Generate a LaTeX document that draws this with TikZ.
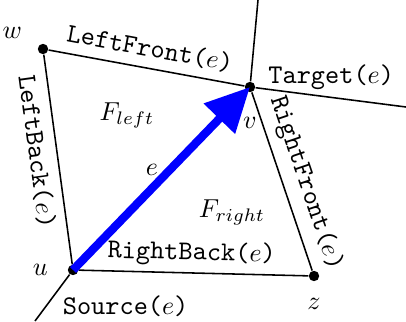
\documentclass[tikz,border=0pt]{standalone}
\usepackage{amsmath,amssymb}
\usepackage{tikz}
\usetikzlibrary{arrows.meta,positioning}
\newcommand{\fname}[1]{\texttt{#1(}$e$\texttt{)}}

\begin{document}
\begin{tikzpicture}[x=0.385pt,y=-0.385pt,
    font=\fontsize{10.4pt}{12pt}\selectfont,
    vertex/.style={circle,fill=black,inner sep=0pt,minimum size=4pt},
    edge/.style={draw=black,line width=0.6pt},
    dart/.style={draw=blue,line width=3.2pt,
                 -{Triangle[length=17pt,width=16pt]}}]
  \useasboundingbox (0,0) rectangle (406,321);
  % vertices of the two faces
  \node[vertex] (w) at (43,49) {};
  \node[vertex] (v) at (250,87) {};
  \node[vertex] (u) at (73,270) {};
  \node[vertex] (z) at (314,276) {};
  \coordinate (vtop)   at (258,0);
  \coordinate (vright) at (406,107);
  \coordinate (udown)  at (35,321);
  % edges
  \draw[edge] (w) -- node[pos=0.5,above,sloped] {\fname{LeftFront}} (v);
  \draw[edge] (w) -- node[pos=0.45,below,sloped] {\fname{LeftBack}} (u);
  \draw[edge] (v) -- node[pos=0.55,above,sloped] {\fname{RightFront}} (z);
  \draw[edge] (u) -- node[pos=0.49,above=-1pt,sloped] {\fname{RightBack}} (z);
  \draw[edge] (v) -- (vtop);
  \draw[edge] (v) -- (vright);
  \draw[edge] (u) -- (udown);
  % the dart e
  \draw[dart] (u.center) -- (v.center);
  % labels
  \node[above left=-1pt and 3pt of w] (wlab) {$w$};
  \node[below=6pt of v] (vlab) {$v$};
  \node[left=4pt of u] (ulab) {$u$};
  \node[below=3pt of z] (zlab) {$z$};
  \node[above right=-6pt and 2pt of v] (target) {\fname{Target}};
  \node[below right=5pt and -9pt of u] (source) {\fname{Source}};
  \node (fleft)  at (127,115) {$F_{left}$};
  \node (fright) at (232,212) {$F_{right}$};
  \node (elab)   at (152,170) {$e$};
\end{tikzpicture}
\end{document}
